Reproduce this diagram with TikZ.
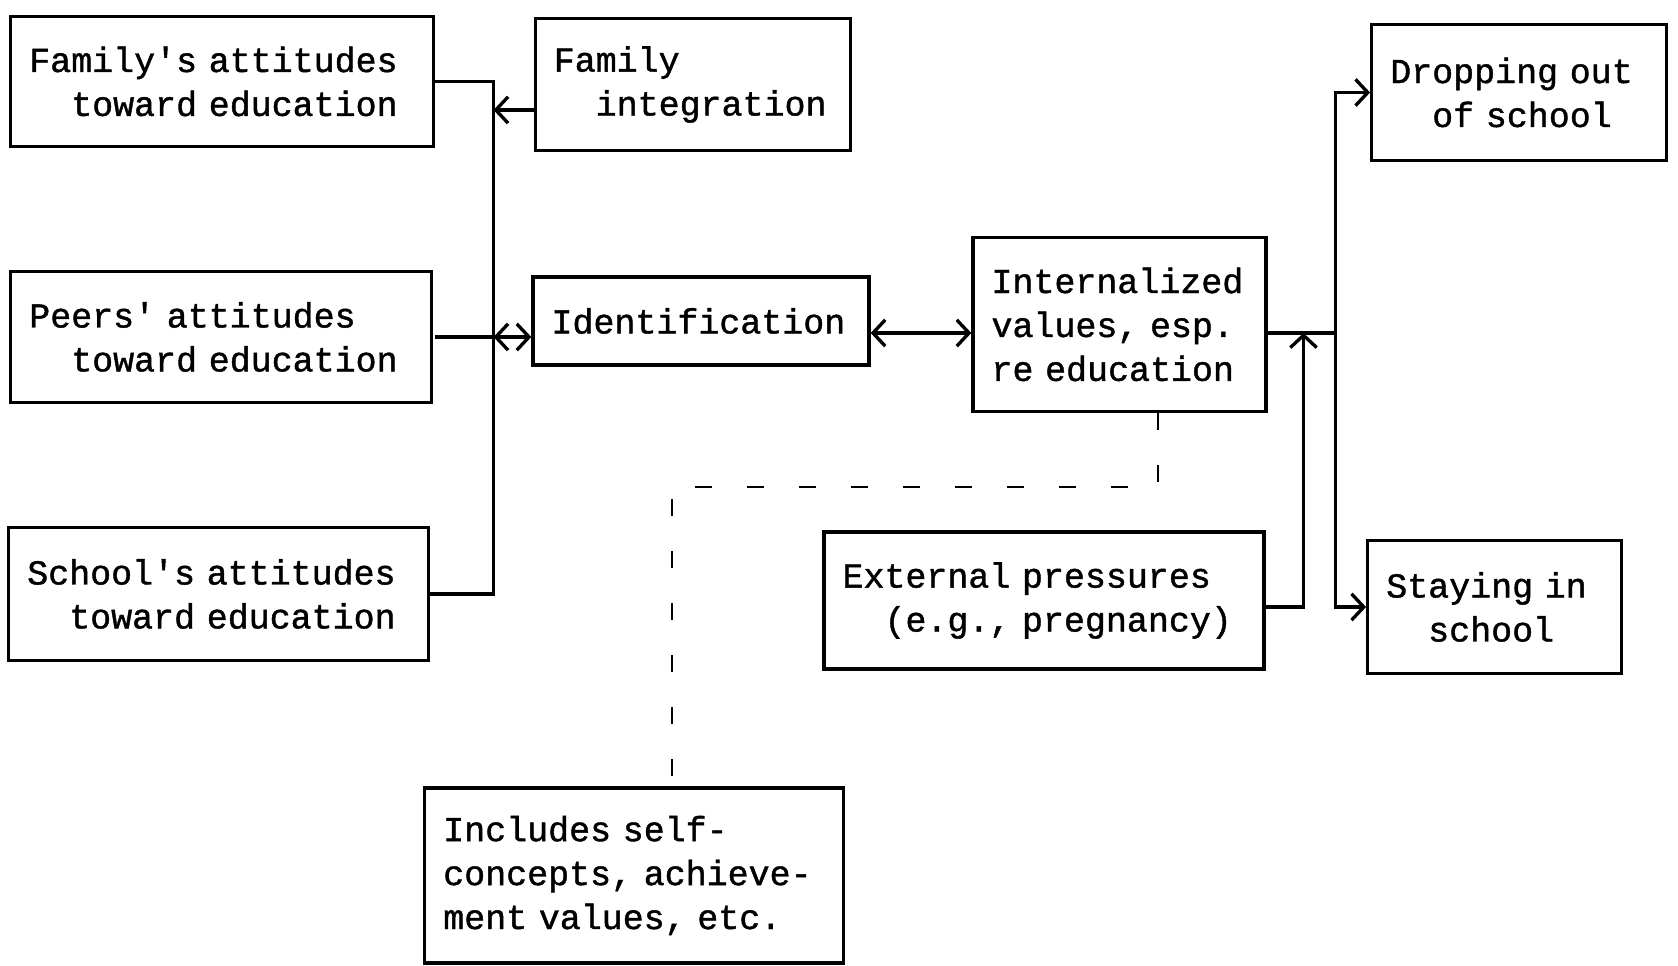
\documentclass[tikz,border=0pt]{standalone}
\usepackage{fontspec}
\setmonofont[FakeBold=1.2]{Liberation Mono}
\usetikzlibrary{arrows.meta}

\begin{document}
\begin{tikzpicture}[>={Straight Barb[length=7pt,width=15pt]}, line width=1.9pt,
		block/.style={draw, rectangle, align=left, inner xsep=0.37cm, inner ysep=0pt},
		link/.style={dash pattern=on 0.34cm off 0.7cm, line width=1.4pt}]
		\ttfamily\fontsize{19.9}{25}\selectfont\spaceskip=0.6em\relax
		\useasboundingbox (0,0) rectangle (33.56,-19.32);

		% left column
		\node[block, text width=7.71cm, minimum height=2.61cm] (FAM_ATT)	at (4.44,-1.63)		{Family's attitudes\\\phantom{xx}toward education};
		\node[block, text width=7.67cm, minimum height=2.61cm] (PEERS)		at (4.42,-6.74)		{Peers' attitudes\\\phantom{xx}toward education};
		\node[block, text width=7.65cm, minimum height=2.65cm] (SCHOOL)		at (4.37,-11.88)	{School's attitudes\\\phantom{xx}toward education};

		% middle
		\node[block, text width=5.57cm, minimum height=2.65cm] (FAM_INT)	at (13.86,-1.69)	{Family\\\phantom{xx}integration};
		\node[block, text width=5.98cm, minimum height=1.76cm] (IDENT)		at (14.02,-6.42)	{Identification};
		\node[block, text width=5.12cm, minimum height=3.47cm] (INTERN)		at (22.39,-6.49)	{Internalized\\values, esp.\\re education};
		\node[block, text width=8.06cm, minimum height=2.74cm] (EXT)		at (20.88,-12.01)	{External pressures\\\phantom{xx}(e.g., pregnancy)};
		\node[block, text width=7.63cm, minimum height=3.50cm] (INCL)		at (12.68,-17.51)	{Includes self-\\concepts, achieve-\\ment values, etc.};

		% outcomes
		\node[block, text width=5.15cm, minimum height=2.72cm] (DROP)		at (30.38,-1.85)	{Dropping out\\\phantom{xx}of school};
		\node[block, text width=4.33cm, minimum height=2.65cm] (STAY)		at (29.89,-12.14)	{Staying in\\\phantom{xx}school};

		\coordinate (BUS_L)		at (9.87,-6.74);
		\coordinate (MID)		at (22.39,-6.66);
		\coordinate (BUS_R)		at (26.71,-6.66);
		\coordinate (EXT_UP)	at (26.07,-6.66);
		\coordinate (DASH_R)	at (23.16,-9.74);
		\coordinate (DASH_L)	at (13.44,-9.74);

		\draw		(FAM_ATT.east) -| (BUS_L) |- (SCHOOL.east);
		\draw		(PEERS.east -| FAM_ATT.east) -- (BUS_L);
		\draw[->]	([yshift=-0.51cm]FAM_INT.west) -- ([yshift=-0.51cm]FAM_INT.west -| BUS_L);
		\draw[<->]	(BUS_L) -- (IDENT.west |- BUS_L);
		\draw[<->]	(IDENT.east |- MID) -- (INTERN.west |- MID);
		\draw		(INTERN.east |- MID) -- (BUS_R);
		\draw[->]	(BUS_R) |- (DROP.west);
		\draw[->]	(BUS_R) |- (STAY.west);
		\draw[->]	(EXT.east |- STAY.west) -| (EXT_UP);
		\draw[link]	(INTERN.south -| DASH_R) -- (DASH_R) -- (DASH_L) -- (INCL.north -| DASH_L);
\end{tikzpicture}
\end{document}
